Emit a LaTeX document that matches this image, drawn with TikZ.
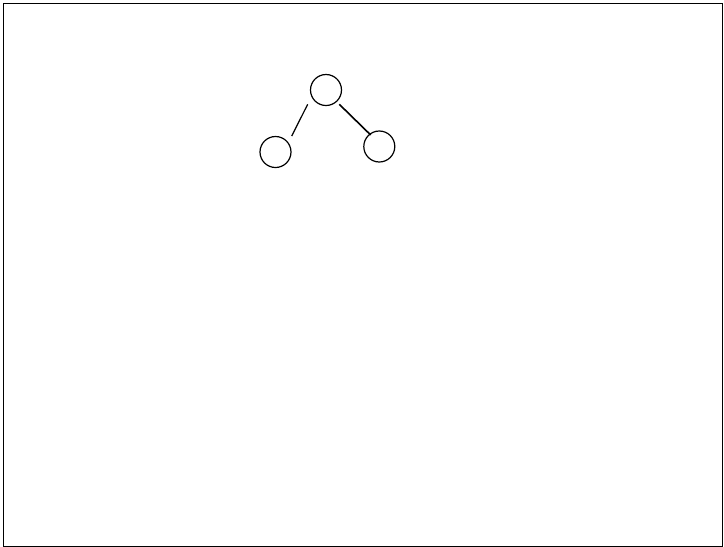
\documentclass[tikz,border=0pt]{standalone}
\begin{document}
\begin{tikzpicture}[x=1pt,y=-1pt,
  vert/.style={circle,draw,line width=1.2pt,minimum size=31pt,inner sep=0pt},
  edgeA/.style={line width=1.2pt},
  edgeB/.style={line width=1.6pt}]
\useasboundingbox (0,0) rectangle (724,547);
\draw[line width=1.4pt] (3.7,3.5) rectangle (722.3,546.3);
\node[vert] (t) at (326,90) {};
\node[vert] (l) at (275.5,152) {};
\node[vert] (r) at (379.3,146.5) {};
\coordinate (a1) at ([shift={(-18.3,14.3)}]t.center);
\coordinate (a2) at ([shift={(16.2,-16)}]l.center);
\coordinate (b1) at ([shift={(13.3,14.3)}]t.center);
\coordinate (b2) at ([shift={(-8.6,-11.5)}]r.center);
\draw[edgeA] (a1) -- (a2);
\draw[edgeB] (b1) -- (b2);
\end{tikzpicture}
\end{document}
